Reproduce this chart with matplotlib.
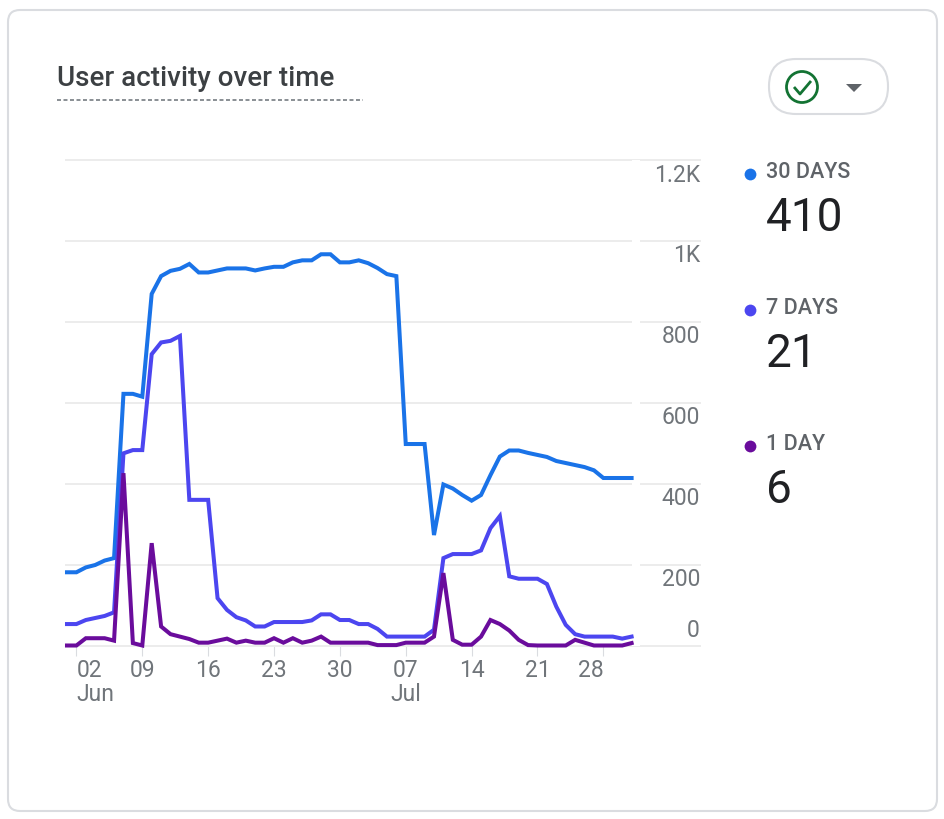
import matplotlib
matplotlib.use("Agg")
import matplotlib.pyplot as plt
from matplotlib.patches import Circle, FancyBboxPatch, Polygon

plt.rcParams["font.family"] = ["Roboto", "DejaVu Sans"]

users_30 = [181, 181, 193, 199, 210, 216, 622, 622, 615, 869, 913, 926, 931, 943, 922, 922,
            927, 932, 932, 932, 927, 932, 936, 936, 947, 952, 952, 967, 967, 947, 947,
            952, 945, 933, 918, 913, 498, 498, 498, 273, 398, 388, 372, 358, 372, 421,
            467, 482, 482, 476, 471, 466, 456, 451, 446, 441, 433, 414, 414, 414, 414]
users_7 = [53, 53, 63, 68, 73, 82, 475, 483, 483, 720, 749, 753, 765, 360, 360, 360,
           117, 88, 70, 62, 47, 47, 58, 58, 58, 58, 62, 77, 77, 63, 63,
           53, 53, 41, 22, 22, 22, 22, 22, 39, 216, 226, 226, 226, 235, 290,
           320, 171, 165, 165, 165, 152, 96, 51, 28, 22, 22, 22, 22, 17, 22]
users_1 = [0, 0, 18, 18, 18, 12, 426, 6, 0, 253, 47, 28, 22, 16, 7, 7,
           12, 17, 7, 12, 7, 7, 18, 7, 18, 7, 12, 22, 7, 7, 7,
           7, 7, 1, 1, 1, 7, 7, 7, 22, 179, 14, 2, 2, 22, 63,
           53, 37, 14, 1, 0, 0, 0, 0, 14, 7, 0, 0, 0, 0, 6]

tick_days = [1, 8, 15, 22, 29, 36, 43, 50, 57]
tick_labels = ["02\nJun", "09", "16", "23", "30", "07\nJul", "14", "21", "28"]
y_ticks = [0, 200, 400, 600, 800, 1000, 1200]
y_labels = ["0", "200", "400", "600", "800", "1K", "1.2K"]

legend_names = ["30 DAYS", "7 DAYS", "1 DAY"]
legend_values = ["410", "21", "6"]
colors = ["#1a73e8", "#4c46f0", "#6a0c9c"]

W, H = 945, 819
GREY = "#70757a"

fig = plt.figure(figsize=(W / 100, H / 100), dpi=100, facecolor="white")

# overlay in pixel coordinates for the card furniture
bg = fig.add_axes([0, 0, 1, 1])
bg.set_xlim(0, W)
bg.set_ylim(H, 0)
bg.axis("off")
bg.add_patch(FancyBboxPatch((8, 10), 929, 801, boxstyle="round,pad=0,rounding_size=12",
                            fc="white", ec="#dadce0", lw=1.5))

# chart, x runs 9.41 px per day from px 67, y 0.4046 px per user from px 645.5
left, right, top, bottom = 66, 700, 160, 645.5
ax = fig.add_axes([left / W, 1 - bottom / H, (right - left) / W, (bottom - top) / H])
ax.patch.set_alpha(0)
ax.set_xlim((left - 67) / 9.41, (right - 67) / 9.41)
ax.set_ylim(0, 1200)
for s in ax.spines.values():
    s.set_visible(False)

ax.set_yticks(y_ticks)
ax.set_yticklabels([])
ax.tick_params(axis="y", length=0)
ax.grid(axis="y", color="#ececec", lw=1.4)
ax.set_axisbelow(True)
for line in ax.get_ygridlines():
    line.set_clip_on(False)
ax.axvspan(60.05, 60.9, color="white", zorder=1, lw=0)

days = range(len(users_30))
for vals, c in zip([users_30, users_7, users_1], colors):
    ax.plot(days, vals, color=c, lw=2.9, clip_on=False, zorder=3, solid_joinstyle="miter")

ax.set_xticks(tick_days)
ax.set_xticklabels(tick_labels, fontsize=16.5, color=GREY, linespacing=1.05)
ax.tick_params(axis="x", length=7, width=0.8, color="#dadce0", pad=3)
labels = ax.get_xticklabels()
labels[0].set_ha("left")
labels[5].set_multialignment("center")
labels[-1].set_ha("right")

for val, lab in zip(y_ticks, y_labels):
    off = 15 if val == 0 else -15
    ax.annotate(lab, (1, val), xycoords=("axes fraction", "data"), xytext=(0, off * 0.72),
                textcoords="offset points", ha="right", va="center", fontsize=16.5, color=GREY)

# title
bg.text(57, 79, "User activity over time", fontsize=20, color="#3c4043", va="center", ha="left",
        fontweight="medium")
bg.plot([57, 363], [100, 100], color="#80868b", lw=1.3, ls=(0, (2.2, 1.4)))

# status pill
bg.add_patch(FancyBboxPatch((769, 59), 119, 55, boxstyle="round,pad=0,rounding_size=27",
                            fc="white", ec="#dadce0", lw=1.5))
bg.add_patch(Circle((802, 87), 15.5, fc="none", ec="#137333", lw=2))
bg.plot([794, 800, 811], [87, 94, 81], color="#137333", lw=2, solid_capstyle="butt")
bg.add_patch(Polygon([[846, 84], [862, 84], [854, 92]], fc="#5f6368", ec="none"))

# legend
for name, value, c, y in zip(legend_names, legend_values, colors, [173, 309, 445]):
    bg.plot([750], [y + 1], "o", color=c, ms=8.5, mew=0)
    bg.text(766, y, name, fontsize=15.5, color="#5f6368", va="center", ha="left", fontweight="medium")
    bg.text(766, y + 45, value, fontsize=33, color="#202124", va="center", ha="left")

fig.savefig("out.png", dpi=100)
